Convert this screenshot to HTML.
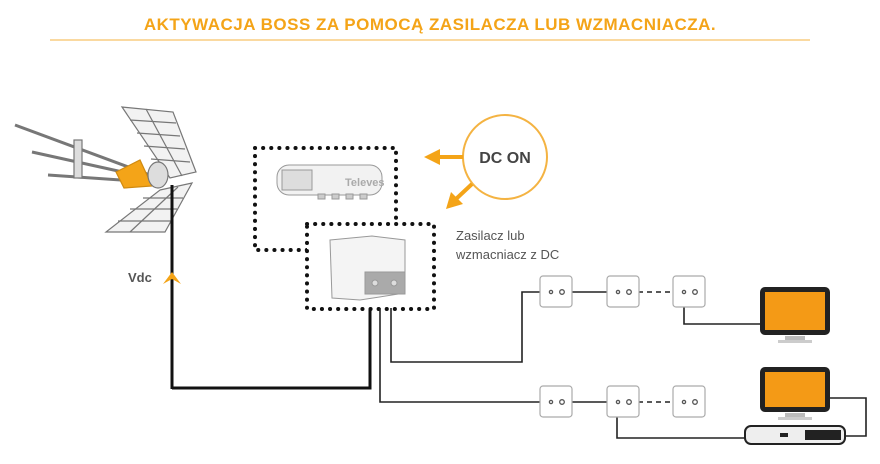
<!DOCTYPE html>
<html><head><meta charset="utf-8"><style>
body{margin:0;background:#fff;width:880px;height:459px;overflow:hidden;font-family:"Liberation Sans",sans-serif}
</style></head><body>
<svg width="880" height="459" xmlns="http://www.w3.org/2000/svg">
<rect width="880" height="459" fill="#fff"/>
<text x="430" y="30" text-anchor="middle" font-family="Liberation Sans" font-weight="bold" font-size="17" fill="#f4a418" letter-spacing="0.5">AKTYWACJA BOSS ZA POMOCĄ ZASILACZA LUB WZMACNIACZA.</text>
<line x1="50" y1="40" x2="810" y2="40" stroke="#f4b342" stroke-width="1"/>
<!-- antenna -->
<g stroke="#777" stroke-width="1.2" fill="#f2f2f2">
<polygon points="122,107 173,112 196,172 170,178"/>
<line x1="146" y1="109" x2="182" y2="176"/>
<line x1="130" y1="120" x2="176" y2="123"/>
<line x1="137" y1="133" x2="180" y2="136"/>
<line x1="144" y1="146" x2="185" y2="149"/>
<line x1="151" y1="159" x2="190" y2="162"/>
<polygon points="160,190 192,183 165,232 106,232"/>
<line x1="178" y1="187" x2="130" y2="232"/>
<line x1="143" y1="198" x2="183" y2="198"/>
<line x1="130" y1="209" x2="177" y2="209"/>
<line x1="118" y1="221" x2="171" y2="221"/>
<line x1="15" y1="125" x2="150" y2="175" stroke-width="3"/>
<line x1="32" y1="152" x2="150" y2="178" stroke-width="3"/>
<line x1="48" y1="175" x2="150" y2="182" stroke-width="3"/>
<rect x="74" y="140" width="8" height="38" fill="#ddd"/>
<path d="M116 172 L140 160 L152 186 L124 188 Z" fill="#f4a418" stroke="#d08a10"/>
<ellipse cx="158" cy="175" rx="10" ry="13" fill="#ddd"/>
</g>
<line x1="172" y1="185" x2="172" y2="389" stroke="#111" stroke-width="3"/>
<polyline points="172,388 370,388 370,308" fill="none" stroke="#111" stroke-width="3"/>
<text x="128" y="282" font-size="13" font-weight="bold" fill="#555">Vdc</text>
<path d="M163 284 L172 272 L181 284 L172 279 Z" fill="#f4a418"/>
<!-- dotted boxes -->
<rect x="255" y="148" width="141" height="102" fill="none" stroke="#111" stroke-width="4" stroke-dasharray="0.1 8" stroke-linecap="round"/>
<rect x="307" y="224" width="127" height="85" fill="#fff" stroke="#111" stroke-width="4" stroke-dasharray="0.1 8" stroke-linecap="round"/>
<!-- device 1 -->
<g stroke="#999" fill="#f2f2f2">
<rect x="277" y="165" width="105" height="30" rx="12"/>
<rect x="282" y="170" width="30" height="20" fill="#ddd"/>
<rect x="318" y="194" width="7" height="5" fill="#ccc"/><rect x="332" y="194" width="7" height="5" fill="#ccc"/>
<rect x="346" y="194" width="7" height="5" fill="#ccc"/><rect x="360" y="194" width="7" height="5" fill="#ccc"/>
<text x="345" y="186" font-size="11" font-weight="bold" fill="#aaa" stroke="none">Televes</text>
</g>
<!-- device 2 -->
<g stroke="#999" fill="#f4f4f4">
<path d="M330 240 L372 236 L405 240 L405 293 L360 300 L332 298 Z"/>
<rect x="365" y="272" width="40" height="22" fill="#aaa"/>
<circle cx="375" cy="283" r="3" fill="#ddd"/><circle cx="394" cy="283" r="3" fill="#ddd"/>
</g>
<!-- cables -->
<g fill="none" stroke="#222" stroke-width="1.6">
<polyline points="380,308 380,402 540,402"/>
<polyline points="391,308 391,362 522,362 522,292 540,292"/>
<line x1="572" y1="292" x2="607" y2="292"/>
<line x1="638" y1="292" x2="673" y2="292" stroke-dasharray="5 4"/>
<line x1="572" y1="402" x2="607" y2="402"/>
<line x1="638" y1="402" x2="673" y2="402" stroke-dasharray="5 4"/>
<polyline points="684,292 684,324 762,324"/>
<polyline points="617,402 617,438 745,438"/>
<polyline points="830,398 866,398 866,436 845,436"/>
</g>
<!-- outlets -->
<g fill="#fff" stroke="#aaa" stroke-width="1.2">
<rect x="540" y="276" width="32" height="31" rx="3"/>
<rect x="607" y="276" width="32" height="31" rx="3"/>
<rect x="673" y="276" width="32" height="31" rx="3"/>
<rect x="540" y="386" width="32" height="31" rx="3"/>
<rect x="607" y="386" width="32" height="31" rx="3"/>
<rect x="673" y="386" width="32" height="31" rx="3"/>
</g>
<g fill="none" stroke="#555" stroke-width="1.3">
<circle cx="551" cy="292" r="1.6"/><circle cx="562" cy="292" r="2.3"/>
<circle cx="618" cy="292" r="1.6"/><circle cx="629" cy="292" r="2.3"/>
<circle cx="684" cy="292" r="1.6"/><circle cx="695" cy="292" r="2.3"/>
<circle cx="551" cy="402" r="1.6"/><circle cx="562" cy="402" r="2.3"/>
<circle cx="618" cy="402" r="1.6"/><circle cx="629" cy="402" r="2.3"/>
<circle cx="684" cy="402" r="1.6"/><circle cx="695" cy="402" r="2.3"/>
</g>
<!-- monitors -->
<rect x="760" y="287" width="70" height="48" rx="5" fill="#222"/>
<rect x="765" y="292" width="60" height="38" fill="#f49a16"/>
<rect x="785" y="336" width="20" height="4" fill="#bbb"/><rect x="778" y="340" width="34" height="3" fill="#ccc"/>
<rect x="760" y="367" width="70" height="45" rx="5" fill="#222"/>
<rect x="765" y="372" width="60" height="35" fill="#f49a16"/>
<rect x="785" y="413" width="20" height="4" fill="#bbb"/><rect x="778" y="417" width="34" height="3" fill="#ccc"/>
<rect x="745" y="426" width="100" height="18" rx="6" fill="#eee" stroke="#222" stroke-width="2"/>
<rect x="780" y="433" width="8" height="4" fill="#222"/><rect x="805" y="430" width="36" height="10" fill="#222"/>
<!-- DC ON -->
<circle cx="505" cy="157" r="42" fill="#fff" stroke="#f4b342" stroke-width="2"/>
<text x="505" y="163" text-anchor="middle" font-size="16" font-weight="bold" fill="#444">DC ON</text>
<line x1="463" y1="157" x2="438" y2="157" stroke="#f4a418" stroke-width="4"/>
<path d="M424 157 L440 149 L440 165 Z" fill="#f4a418"/>
<line x1="472" y1="184" x2="456" y2="199" stroke="#f4a418" stroke-width="4"/>
<path d="M446 209 L451 192 L463 204 Z" fill="#f4a418"/>
<text x="456" y="240" font-size="13" fill="#555">Zasilacz lub</text>
<text x="456" y="259" font-size="13" fill="#555">wzmacniacz z DC</text>
</svg>
</body></html>
